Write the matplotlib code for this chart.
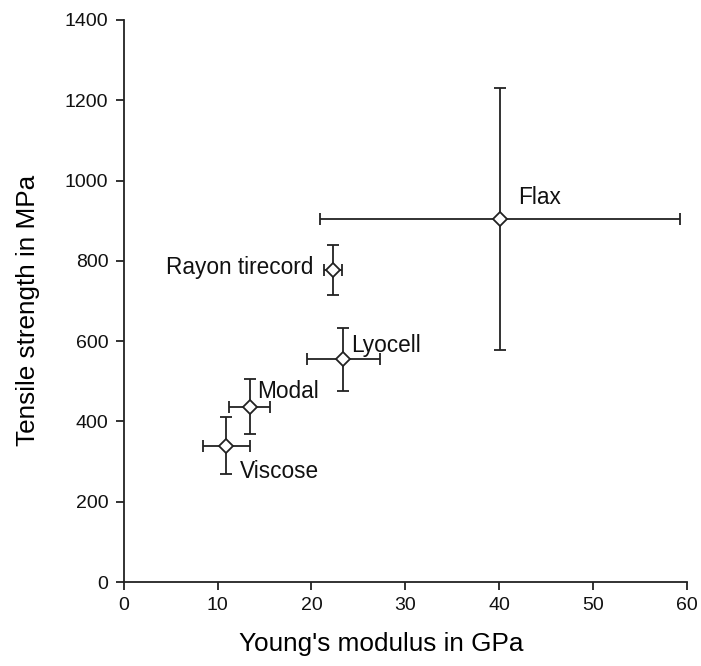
import matplotlib
matplotlib.use("Agg")
import matplotlib.pyplot as plt

plt.rcParams['font.family'] = ['Liberation Sans', 'DejaVu Sans']

fibres = ["Viscose", "Modal", "Lyocell", "Rayon tirecord", "Flax"]
modulus = [10.9, 13.4, 23.4, 22.3, 40.1]
modulus_err = [2.5, 2.2, 3.9, 1.0, 19.2]
strength = [340, 437, 555, 778, 904]
strength_err = [72, 68, 78, 62, 326]

x_ticks = [0, 10, 20, 30, 40, 50, 60]
y_ticks = [0, 200, 400, 600, 800, 1000, 1200, 1400]

# label placement: (x, y, ha)
label_pos = {
    "Viscose": (12.4, 275, "left"),
    "Modal": (14.25, 474, "left"),
    "Lyocell": (24.2, 590, "left"),
    "Rayon tirecord": (20.2, 784, "right"),
    "Flax": (42.0, 957, "left"),
}

fig = plt.figure(figsize=(7.01, 6.66), dpi=100)
ax = fig.add_axes([0.1765, 0.1261, 0.8035, 0.8439])

col = "#222222"
ax.errorbar(modulus, strength, xerr=modulus_err, yerr=strength_err,
            fmt="D", ms=7.2, mfc="white", mec=col, mew=1.3,
            ecolor=col, elinewidth=1.3, capsize=4, capthick=1.3, zorder=3)

for name in fibres:
    x, y, ha = label_pos[name]
    ax.text(x, y, name, ha=ha, va="center", fontsize=16.3, color="#111111")

ax.set_xlim(0, 60)
ax.set_ylim(0, 1400)
ax.set_xticks(x_ticks)
ax.set_yticks(y_ticks)
ax.spines["top"].set_visible(False)
ax.spines["right"].set_visible(False)
for s in ("left", "bottom"):
    ax.spines[s].set_linewidth(1.3)
    ax.spines[s].set_color(col)
ax.tick_params(direction="out", length=6, width=1.3, color=col,
               labelsize=14, labelcolor="#111111", pad=5)
ax.set_xlabel("Young's modulus in GPa", fontsize=18.8, va="center")
ax.set_ylabel("Tensile strength in MPa", fontsize=18.8, va="center")
ax.xaxis.set_label_coords(0.458, -0.110)
ax.yaxis.set_label_coords(-0.170, 0.484)

fig.savefig("out.png", dpi=100)
